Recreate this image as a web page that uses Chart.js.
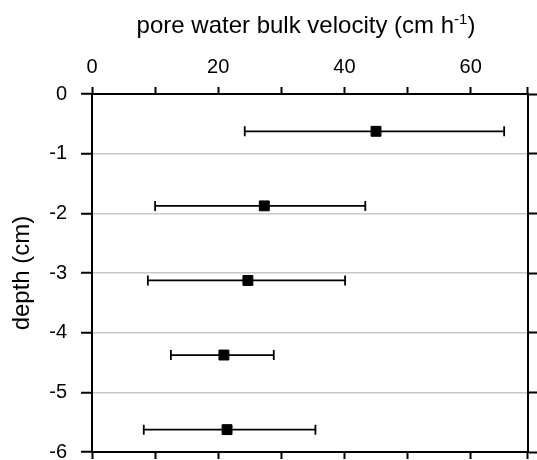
<!DOCTYPE html>
<html>
<head>
<meta charset="utf-8">
<script src="https://cdn.jsdelivr.net/npm/chart.js@4"></script>
<style>
    body { margin: 0; background: #fff; }
    canvas { display: block; }
</style>
</head>
<body>
<canvas id="velocityChart" width="537" height="460"></canvas>
<script>
// depth of each sample (cm) and bulk velocity (cm/h) with its range
const depths = [-0.625, -1.875, -3.125, -4.375, -5.625];
const velocity = [45.0, 27.3, 24.7, 20.9, 21.4];
const velLow = [24.2, 10.0, 8.85, 12.5, 8.2];
const velHigh = [65.3, 43.3, 40.1, 28.8, 35.4];
const xTickLabels = [0, 20, 40, 60];

const FONT = "'Liberation Sans', Arial, Helvetica, sans-serif";

// horizontal error bars
const errorBars = {
    id: 'errorBars',
    beforeDatasetsDraw(chart) {
        const ctx = chart.ctx;
        const x = chart.scales.x;
        const y = chart.scales.y;
        ctx.save();
        ctx.strokeStyle = '#000';
        ctx.lineWidth = 1.8;
        depths.forEach((d, i) => {
            const py = y.getPixelForValue(d);
            const x1 = x.getPixelForValue(velLow[i]);
            const x2 = x.getPixelForValue(velHigh[i]);
            ctx.beginPath();
            ctx.moveTo(x1, py);
            ctx.lineTo(x2, py);
            ctx.moveTo(x1, py - 5);
            ctx.lineTo(x1, py + 5);
            ctx.moveTo(x2, py - 5);
            ctx.lineTo(x2, py + 5);
            ctx.stroke();
        });
        ctx.restore();
    }
};

// title with a superscript unit
const topTitle = {
    id: 'topTitle',
    afterDraw(chart) {
        const ctx = chart.ctx;
        const main = 'pore water bulk velocity (cm h';
        const sup = '-1';
        const end = ')';
        ctx.save();
        ctx.fillStyle = '#000';
        ctx.textBaseline = 'alphabetic';
        ctx.textAlign = 'left';
        ctx.font = '24px ' + FONT;
        const w1 = ctx.measureText(main).width;
        const w3 = ctx.measureText(end).width;
        ctx.font = '15px ' + FONT;
        const w2 = ctx.measureText(sup).width;
        const total = w1 + w2 + w3;
        let left = 306 - total / 2;
        const base = 33;
        ctx.font = '24px ' + FONT;
        ctx.fillText(main, left, base);
        ctx.font = '15px ' + FONT;
        ctx.fillText(sup, left + w1, base - 9);
        ctx.font = '24px ' + FONT;
        ctx.fillText(end, left + w1 + w2, base);
        ctx.restore();
    }
};

const points = depths.map((d, i) => ({ x: velocity[i], y: d }));

new Chart(document.getElementById('velocityChart'), {
    type: 'scatter',
    data: {
        datasets: [{
            data: points,
            pointStyle: 'rect',
            pointRadius: 7,
            pointBackgroundColor: '#000',
            pointBorderColor: '#000',
            pointBorderWidth: 1
        }]
    },
    options: {
        responsive: false,
        animation: false,
        layout: { padding: { top: 50, left: 0, right: 0, bottom: 0 } },
        plugins: {
            legend: { display: false },
            tooltip: { enabled: false }
        },
        scales: {
            x: {
                position: 'top',
                min: 0,
                max: 69,
                ticks: {
                    stepSize: 10,
                    color: '#000',
                    font: { family: FONT, size: 20 },
                    padding: 8,
                    maxRotation: 0,
                    autoSkip: false,
                    callback: v => xTickLabels.includes(v) ? v : ''
                },
                grid: {
                    drawOnChartArea: false,
                    tickLength: 7,
                    tickColor: '#000',
                    tickWidth: 2
                },
                border: { color: '#000', width: 2 },
                afterFit: s => { s.height = 44; s.paddingLeft = 0; s.paddingRight = 0; }
            },
            x2: {
                position: 'bottom',
                min: 0,
                max: 69,
                ticks: { display: false, stepSize: 10 },
                grid: {
                    drawOnChartArea: false,
                    tickLength: 7,
                    tickColor: '#000',
                    tickWidth: 2
                },
                border: { color: '#000', width: 2 },
                afterFit: s => { s.height = 7; }
            },
            y: {
                position: 'left',
                min: -6,
                max: 0,
                ticks: {
                    stepSize: 1,
                    color: '#000',
                    font: { family: FONT, size: 20 },
                    padding: 14
                },
                grid: {
                    color: '#c8c8c8',
                    lineWidth: 1.5,
                    tickLength: 11,
                    tickColor: '#000',
                    tickWidth: 2
                },
                border: { color: '#000', width: 2 },
                title: {
                    display: true,
                    text: 'depth (cm)',
                    color: '#000',
                    font: { family: FONT, size: 24 },
                    padding: { top: 8, bottom: 0 }
                },
                // label overflow at -6 would otherwise push the plot up
                afterFit: s => { s.width = 92; s.paddingTop = 0; s.paddingBottom = 0; }
            },
            y2: {
                position: 'right',
                min: -6,
                max: 0,
                ticks: { display: false, stepSize: 1 },
                grid: {
                    drawOnChartArea: false,
                    tickLength: 10,
                    tickColor: '#000',
                    tickWidth: 2
                },
                border: { color: '#000', width: 2 },
                afterFit: s => { s.width = 9.5; }
            }
        }
    },
    plugins: [errorBars, topTitle]
});
</script>
</body>
</html>
